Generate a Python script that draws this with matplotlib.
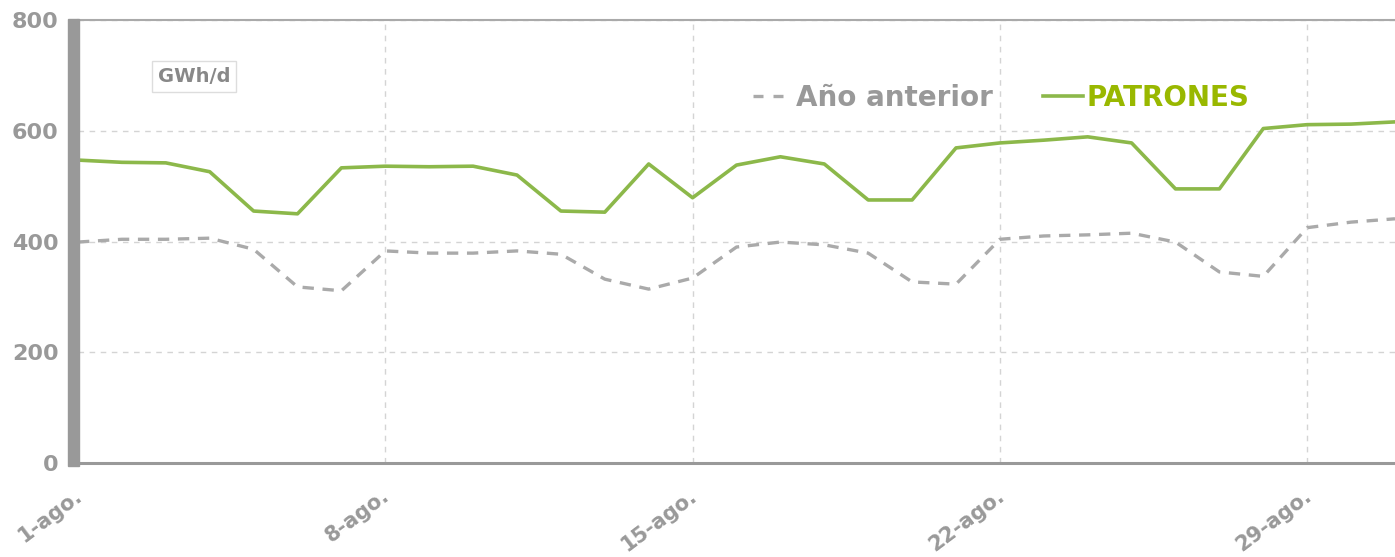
import matplotlib
matplotlib.use("Agg")
import matplotlib.pyplot as plt
from matplotlib.lines import Line2D
from matplotlib.patches import Rectangle
from matplotlib.transforms import ScaledTranslation

# daily gas demand, August (GWh/d)
days = list(range(1, 32))
patrones = [547, 543, 542, 526, 455, 450, 533, 536, 535, 536, 520, 455, 453, 540,
            479, 538, 553, 540, 475, 475, 569, 578, 583, 589, 578, 495, 495, 604,
            611, 612, 616]
anio_anterior = [399, 404, 404, 406, 386, 318, 311, 383, 379, 379, 383, 377, 332, 314,
                 334, 390, 399, 394, 379, 327, 323, 404, 410, 412, 415, 399, 345, 337,
                 425, 435, 441]
tick_days = [1, 8, 15, 22, 29]
tick_labels = ["1-ago.", "8-ago.", "15-ago.", "22-ago.", "29-ago."]
y_ticks = [0, 200, 400, 600, 800]

GREEN = "#8cb84a"
GREEN_TXT = "#99b800"
GREY = "#aaaaaa"
AXGREY = "#999999"

W, H = 1395, 557
fig = plt.figure(figsize=(W / 100, H / 100), dpi=100)
ax = fig.add_axes([78 / W, 1 - 463 / H, (W - 78) / W, (463 - 20) / H])

ax.plot(days, anio_anterior, color=GREY, lw=2.4, dashes=(3.4, 2.6), zorder=3)
ax.plot(days, patrones, color=GREEN, lw=2.6, zorder=4)

ax.set_xlim(1, 31)
ax.set_ylim(0, 800)
ax.set_yticks(y_ticks)
ax.set_xticks(tick_days)
ax.set_xticklabels(tick_labels, rotation=37, ha="right", rotation_mode="anchor")
ax.tick_params(axis="y", length=0, labelsize=16, labelcolor=AXGREY, pad=14)
ax.tick_params(axis="x", length=0, labelsize=15, labelcolor=AXGREY, pad=16)
for lab in ax.get_yticklabels():
    lab.set_fontweight("bold")
nudge = ScaledTranslation(-4 / 100, 0, fig.dpi_scale_trans)
for lab in ax.get_xticklabels():
    lab.set_fontweight("bold")
    lab.set_transform(lab.get_transform() + nudge)

ax.grid(True, color="#d4d4d4", lw=1, ls=(0, (4, 4)))
ax.set_axisbelow(True)

for side in ["right", "left"]:
    ax.spines[side].set_visible(False)
ax.spines["top"].set_color("#aaaaaa")
ax.spines["top"].set_linewidth(1.5)
ax.spines["bottom"].set_color(AXGREY)
ax.spines["bottom"].set_linewidth(2.2)

# thick left bar
fig.patches.append(Rectangle((68 / W, 1 - 466 / H), 11 / W, (466 - 19) / H,
                             transform=fig.transFigure, color=AXGREY, zorder=5))

# unit label
ax.text(0.088, 0.873, "GWh/d", transform=ax.transAxes, ha="center", va="center",
        fontsize=14, fontweight="bold", color="#888888",
        bbox=dict(boxstyle="square,pad=0.3", fc="white", ec="#dddddd", lw=1))

handles = [Line2D([], [], color=GREY, lw=2.4, dashes=(3, 3)),
           Line2D([], [], color=GREEN, lw=2.6)]
leg = ax.legend(handles, ["Año anterior", "PATRONES"], ncol=2, frameon=False,
                loc="center", bbox_to_anchor=((1001 - 78) / (W - 78), 0.825),
                handlelength=1.45, handletextpad=0.1, columnspacing=1.8,
                prop={"weight": "bold", "size": 20})
leg.get_texts()[0].set_color(AXGREY)
leg.get_texts()[1].set_color(GREEN_TXT)

fig.savefig("out.png", dpi=100)
